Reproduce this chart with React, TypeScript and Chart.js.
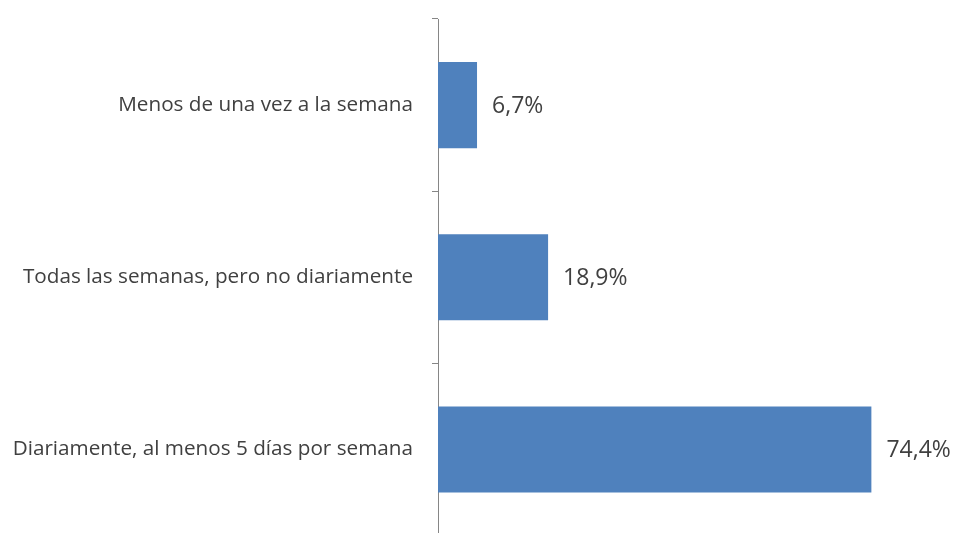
import React, { useEffect, useRef } from "react";
import { Chart, registerables } from "chart.js";

Chart.register(...registerables);

const categories = [
  "Menos de una vez a la semana",
  "Todas las semanas, pero no diariamente",
  "Diariamente, al menos 5 días por semana",
];
const values = [6.7, 18.9, 74.4];
const valueLabels = ["6,7%", "18,9%", "74,4%"];

const FONT = "'Open Sans', sans-serif";

const valueLabelPlugin = {
  id: "valueLabels",
  afterDatasetsDraw(chart: any) {
    const ctx = chart.ctx;
    const meta = chart.getDatasetMeta(0);
    ctx.save();
    ctx.font = `23px ${FONT}`;
    ctx.fillStyle = "#404040";
    ctx.textAlign = "left";
    ctx.textBaseline = "middle";
    meta.data.forEach((bar: any, i: number) => {
      ctx.fillText(valueLabels[i], bar.x + 15, bar.y + 1);
    });
    ctx.restore();
  },
};

export default function App() {
  const ref = useRef<HTMLCanvasElement | null>(null);
  useEffect(() => {
    document.body.style.margin = "0";
    document.body.style.overflow = "hidden";
    const chart = new Chart(ref.current!, {
      type: "bar",
      data: {
        labels: categories,
        datasets: [
          {
            data: values,
            backgroundColor: "#4F81BD",
            borderWidth: 0,
            categoryPercentage: 0.5,
            barPercentage: 1,
          },
        ],
      },
      options: {
        indexAxis: "y",
        animation: false,
        responsive: false,
        maintainAspectRatio: false,
        layout: { padding: { top: 19, bottom: 0, left: 0, right: 52 } },
        plugins: { legend: { display: false }, tooltip: { enabled: false } },
        scales: {
          x: { display: false, min: 0, max: 80 },
          y: {
            afterFit: (scale: any) => {
              scale.width = 438;
            },
            grid: {
              offset: true,
              drawOnChartArea: false,
              drawTicks: true,
              tickLength: 25,
              tickBorderDash: [0, 19, 7, 40],
              color: "#868686",
            },
            border: { display: true, color: "#868686", width: 1 },
            ticks: {
              color: "#404040",
              padding: 0,
              font: { family: FONT, size: 20.7 },
            },
          },
        },
      },
      plugins: [valueLabelPlugin],
    });
    return () => chart.destroy();
  }, []);
  return (
    <div style={{ position: "absolute", left: 0, top: 0, width: 956, height: 548 }}>
      <canvas ref={ref} width={956} height={548} style={{ width: 956, height: 548 }} />
    </div>
  );
}
